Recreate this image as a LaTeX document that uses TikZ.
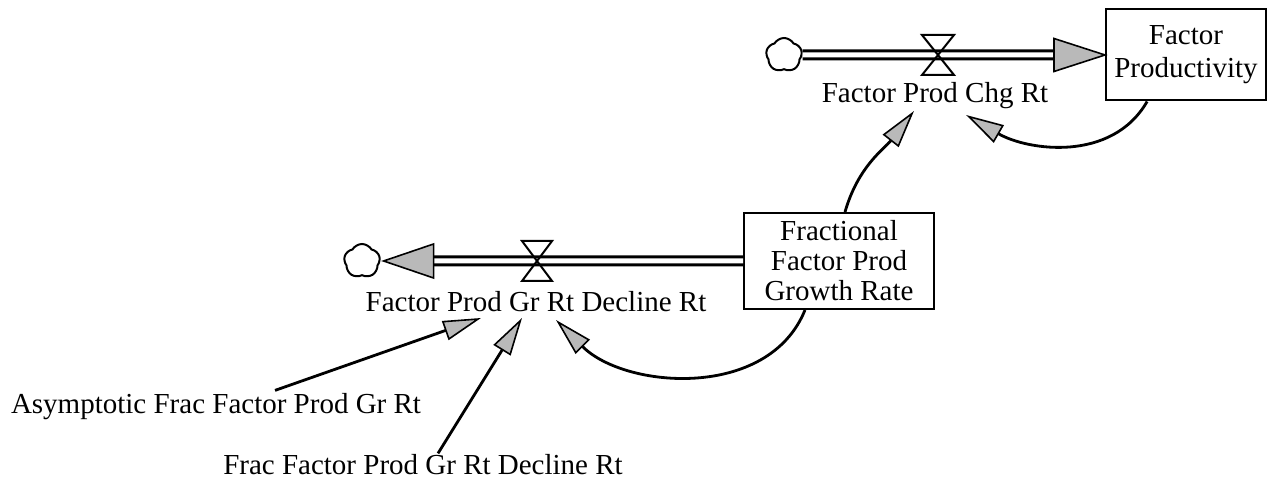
\documentclass[tikz,border=0pt]{standalone}
\usepackage{fontspec}
\setmainfont{Liberation Serif}
\usetikzlibrary{arrows.meta,shapes.symbols,calc}
\begin{document}
\begin{tikzpicture}[x=0.5pt,y=0.5pt,
  lbl/.style={font=\fontsize{14.5}{16}\selectfont, inner sep=0pt, align=center},
  stock/.style={draw, line width=1pt, align=center, inner sep=0pt},
  cloudn/.style={cloud, draw, line width=1pt, cloud puffs=5, cloud puff arc=120, aspect=1.05, minimum width=18pt, minimum height=17pt, inner sep=0pt},
  pipeout/.style={line width=5.5pt, draw=black},
  pipein/.style={line width=2.5pt, draw=white},
  flowtip/.style={draw, line width=0.8pt, fill=gray!55, line join=miter},
  valve/.style={draw, line width=1pt, line join=miter},
  info/.style={line width=1.4pt, -{Triangle[length=19pt,width=10pt,fill=gray!55,line width=0.8pt]}}
]
\useasboundingbox (0,0) rectangle (1268,485);

% stocks
\node[stock, minimum width=80pt, minimum height=45.5pt, font=\fontsize{14.5}{16.5}\selectfont] (FP) at (1186,430) {Factor\\Productivity};
\node[stock, minimum width=95pt, minimum height=48pt, font=\fontsize{14.5}{15}\selectfont] (mid) at (839,224) {Fractional\\Factor Prod\\Growth Rate};

% clouds
\node[cloudn] (cT) at (784,430) {};
\node[cloudn] (cL) at (362,224) {};

% valve centres
\coordinate (vT) at (938,430);
\coordinate (vL) at (537,224);

% labels
\node[lbl] (chg) at (935,389) {Factor Prod Chg Rt};
\node[lbl] (dr) at (536,183) {Factor Prod Gr Rt Decline Rt};
\node[lbl] (asym) at (216,78) {Asymptotic Frac Factor Prod Gr Rt};
\node[lbl] (frac) at (423,20) {Frac Factor Prod Gr Rt Decline Rt};

% top flow pipe
\draw[pipeout, shorten >=25.5pt] (cT.east) -- (FP.west);
\draw[pipein, shorten >=25.5pt] (cT.east) -- (FP.west);
\draw[flowtip] (FP.west) -- ++(-51,16.5) -- ++(0,-33) -- cycle;
\draw[valve] ($(vT)+(-16,20)$) -- ($(vT)+(16,20)$) -- ($(vT)+(-16,-20)$) -- ($(vT)+(16,-20)$) -- cycle;

% lower flow pipe
\draw[pipeout, shorten >=26.5pt] (mid.west) -- (cL.east);
\draw[pipein, shorten >=26.5pt] (mid.west) -- (cL.east);
\draw[flowtip] ($(cL.east)+(3,0)$) -- ++(50,17) -- ++(0,-34) -- cycle;
\draw[valve] ($(vL)+(-15,20)$) -- ($(vL)+(15,20)$) -- ($(vL)+(-15,-20)$) -- ($(vL)+(15,-20)$) -- cycle;

% information links
\draw[info] ($(FP.south west)!0.26!(FP.south east)$) to[out=-120,in=-30] ($(chg)+(31,-19)$);
\draw[info] ($(mid.north)+(6,0)$) to[out=74,in=-128] ($(chg)+(-21,-15)$);
\draw[info] ($(mid.south)+(-34,0)$) to[out=-112,in=-45] ($(dr)+(20,-18)$);
\draw[info] ($(asym.north)+(59,3)$) -- ($(dr)+(-55,-16)$);
\draw[info] ($(frac.north)+(15,1)$) -- ($(dr)+(-14,-16)$);
\end{tikzpicture}
\end{document}
